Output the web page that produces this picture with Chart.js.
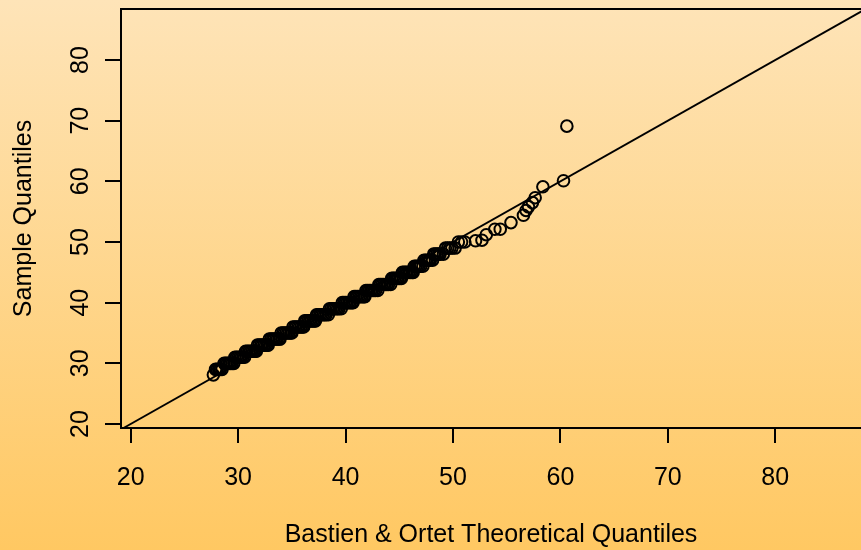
<!DOCTYPE html>
<html>
<head>
<meta charset="utf-8">
<script src="https://cdn.jsdelivr.net/npm/chart.js@4.4.1/dist/chart.umd.min.js"></script>
<style>
html,body{margin:0;padding:0;overflow:hidden;background:#fed99a;}
#c{display:block;}
</style>
</head>
<body>
<canvas id="c" width="861" height="550"></canvas>
<script>
// ---- data ----
const theoretical = [
  27.7,
  27.9, 28.05, 28.2, 28.35, 28.5,
  28.7, 28.85, 29.0, 29.15, 29.3, 29.45, 29.6,
  29.7, 29.85, 30.0, 30.15, 30.3, 30.45, 30.6,
  30.7, 30.85, 31.0, 31.15, 31.3, 31.45, 31.6, 31.7,
  31.8, 31.95, 32.1, 32.25, 32.4, 32.55, 32.7, 32.8,
  32.9, 33.05, 33.2, 33.35, 33.5, 33.65, 33.8, 33.9,
  34.0, 34.15, 34.3, 34.45, 34.6, 34.75, 34.9, 35.0,
  35.1, 35.25, 35.4, 35.55, 35.7, 35.85, 36.0, 36.1,
  36.2, 36.35, 36.5, 36.65, 36.8, 36.95, 37.1, 37.2,
  37.3, 37.45, 37.6, 37.75, 37.9, 38.05, 38.2, 38.4,
  38.5, 38.65, 38.8, 38.95, 39.1, 39.25, 39.4, 39.6,
  39.7, 39.85, 40.0, 40.15, 40.3, 40.45, 40.6, 40.7,
  40.8, 40.95, 41.1, 41.25, 41.4, 41.55, 41.7, 41.8,
  41.9, 42.05, 42.2, 42.35, 42.5, 42.65, 42.8, 43.0,
  43.1, 43.25, 43.4, 43.55, 43.7, 43.85, 44.0, 44.2,
  44.3, 44.45, 44.6, 44.75, 44.9, 45.05, 45.2,
  45.3, 45.45, 45.6, 45.75, 45.9, 46.05, 46.2, 46.3,
  46.4, 46.55, 46.7, 46.85, 47.0, 47.2,
  47.3, 47.45, 47.6, 47.75, 47.9, 48.1,
  48.2, 48.35, 48.5, 48.65, 48.8, 49.1,
  49.3, 49.5, 49.7, 49.9, 50.2,
  50.5, 50.8, 51.1,
  52.1, 52.7, 53.1, 53.9, 54.4, 55.4, 56.56, 56.8, 57.03, 57.4, 57.65, 58.37, 60.29, 60.6
];
const sample = [
  28.1,
  29, 29, 29, 29, 29,
  30, 30, 30, 30, 30, 30, 30,
  31, 31, 31, 31, 31, 31, 31,
  32, 32, 32, 32, 32, 32, 32, 32,
  33, 33, 33, 33, 33, 33, 33, 33,
  34, 34, 34, 34, 34, 34, 34, 34,
  35, 35, 35, 35, 35, 35, 35, 35,
  36, 36, 36, 36, 36, 36, 36, 36,
  37, 37, 37, 37, 37, 37, 37, 37,
  38, 38, 38, 38, 38, 38, 38, 38,
  39, 39, 39, 39, 39, 39, 39, 39,
  40, 40, 40, 40, 40, 40, 40, 40,
  41, 41, 41, 41, 41, 41, 41, 41,
  42, 42, 42, 42, 42, 42, 42, 42,
  43, 43, 43, 43, 43, 43, 43, 43,
  44, 44, 44, 44, 44, 44, 44,
  45, 45, 45, 45, 45, 45, 45, 45,
  46, 46, 46, 46, 46, 46,
  47, 47, 47, 47, 47, 47,
  48, 48, 48, 48, 48, 48,
  49, 49, 49, 49, 49,
  50, 50, 50,
  50.2, 50.3, 51.2, 52.1, 52.1, 53.2, 54.4, 55.2, 55.8, 56.5, 57.3, 59.1, 60.1, 69.1
];
const refLineX = [19, 90];
const refLineY = [19, 90];
const xTicks = [20, 30, 40, 50, 60, 70, 80];
const yTicks = [20, 30, 40, 50, 60, 70, 80];
const xTitle = 'Bastien & Ortet Theoretical Quantiles';
const yTitle = 'Sample Quantiles';

// ---- chart ----
const FONT = '"Liberation Sans", Arial, Helvetica, sans-serif';

const bgPlugin = {
  id: 'bg',
  beforeDraw(chart) {
    const ctx = chart.ctx;
    const g = ctx.createLinearGradient(0, 0, 0, chart.height);
    g.addColorStop(0, '#fee4b8');
    g.addColorStop(1, '#ffc862');
    ctx.save();
    ctx.fillStyle = g;
    ctx.fillRect(0, 0, chart.width, chart.height);
    ctx.restore();
  }
};
const framePlugin = {
  id: 'frame',
  afterDraw(chart) {
    const a = chart.chartArea, ctx = chart.ctx;
    ctx.save();
    ctx.strokeStyle = '#000';
    ctx.lineWidth = 2;
    ctx.beginPath();
    ctx.moveTo(a.left - 1, a.top);
    ctx.lineTo(a.right + 2, a.top);
    ctx.stroke();
    ctx.restore();
  }
};
function noPad(s) {
  s.paddingTop = 0; s.paddingBottom = 0; s.paddingLeft = 0; s.paddingRight = 0;
}

new Chart(document.getElementById('c'), {
  type: 'scatter',
  data: {
    datasets: [
      {
        data: theoretical.map((x, i) => ({x, y: sample[i]})),
        pointStyle: 'circle',
        pointRadius: 5.8,
        pointHoverRadius: 5.8,
        pointBorderWidth: 2,
        pointBorderColor: '#000',
        pointBackgroundColor: 'rgba(0,0,0,0)',
        borderColor: '#000'
      },
      {
        data: refLineX.map((x, i) => ({x, y: refLineY[i]})),
        showLine: true,
        pointRadius: 0,
        borderColor: '#000',
        borderWidth: 1.8
      }
    ]
  },
  options: {
    responsive: false,
    animation: false,
    devicePixelRatio: 1,
    layout: {autoPadding: false, padding: {top: 9, right: 0, left: 0, bottom: 0}},
    plugins: {legend: {display: false}, tooltip: {enabled: false}},
    events: [],
    scales: {
      x: {
        type: 'linear',
        min: 19.1,
        max: 87.98,
        afterBuildTicks: s => { s.ticks = xTicks.map(v => ({value: v})); },
        afterFit: s => { s.height = 122; noPad(s); },
        border: {display: true, color: '#000', width: 2},
        grid: {drawOnChartArea: false, drawTicks: true, tickLength: 15, color: '#000', lineWidth: 2},
        ticks: {color: '#000', font: {family: FONT, size: 25}, padding: 20, autoSkip: false, maxRotation: 0},
        title: {display: true, text: xTitle, color: '#000', font: {family: FONT, size: 25}, padding: {top: 0, bottom: 0}}
      },
      y: {
        type: 'linear',
        min: 19.34,
        max: 88.41,
        afterBuildTicks: s => { s.ticks = yTicks.map(v => ({value: v})); },
        afterFit: s => { s.width = 121; noPad(s); },
        border: {display: true, color: '#000', width: 2},
        grid: {drawOnChartArea: false, drawTicks: true, tickLength: 16, color: '#000', lineWidth: 2},
        ticks: {color: '#000', font: {family: FONT, size: 25}, padding: 10, autoSkip: false,
                minRotation: 90, maxRotation: 90, crossAlign: 'center'},
        title: {display: true, text: yTitle, color: '#000', font: {family: FONT, size: 25}, padding: {top: 9, bottom: 0}}
      }
    }
  },
  plugins: [bgPlugin, framePlugin]
});
</script>
</body>
</html>
